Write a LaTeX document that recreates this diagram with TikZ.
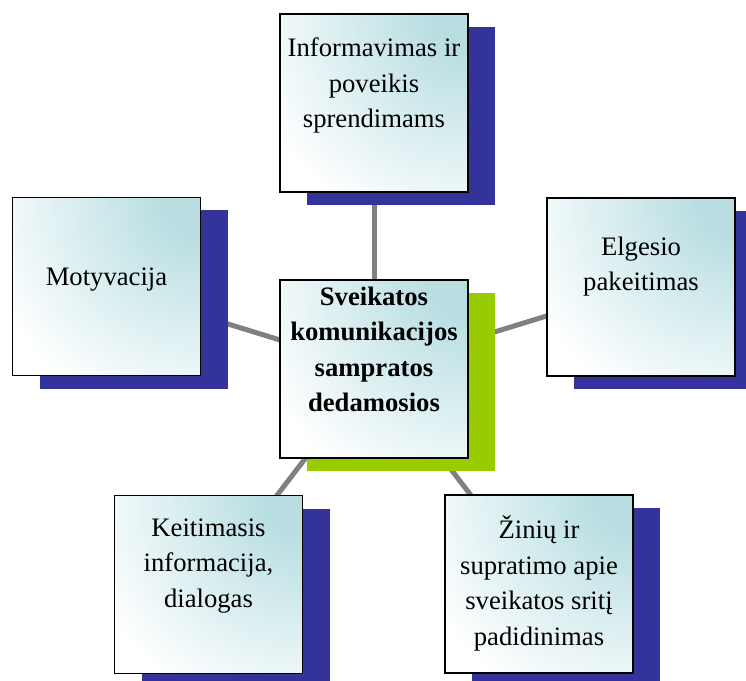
\documentclass[tikz,border=0pt]{standalone}
\usepackage{fontspec}
\setmainfont{Liberation Serif}
\usetikzlibrary{backgrounds}
\definecolor{boxteal}{RGB}{184,222,226}
\definecolor{shadowblue}{RGB}{51,51,153}
\definecolor{shadowgreen}{RGB}{153,204,0}
\definecolor{conngray}{RGB}{128,128,128}
\pgfdeclareradialshading{boxshade}{\pgfpoint{0bp}{0bp}}{color(0bp)=(boxteal); color(4bp)=(boxteal); color(25bp)=(white); color(50bp)=(white)}
\begin{document}
\begin{tikzpicture}[x=0.75pt,y=-0.75pt,
 box/.style={draw=black, fill=white, line width=1.3pt, minimum width=141pt, minimum height=133.5pt, inner sep=0pt,
   path picture={\shade[shading=boxshade] (path picture bounding box.north east) circle (170pt);}},
 blueshadow/.style={preaction={fill=shadowblue, transform canvas={xshift=20.25pt,yshift=-9.75pt}}},
 greenshadow/.style={preaction={fill=shadowgreen, transform canvas={xshift=20.25pt,yshift=-9.75pt}}},
 lbl/.style={align=center, inner sep=0pt, font=\fontsize{20pt}{26.6pt}\selectfont},
 conn/.style={draw=conngray, line width=3.75pt}]
\useasboundingbox (0,0) rectangle (746,681);
\clip (0,0) rectangle (746,681);
% boxes
\node[box, blueshadow] (T) at (374,103) {};
\node[box, blueshadow] (M) at (106.5,286.5) {};
\node[box, blueshadow] (E) at (641,287) {};
\node[box, blueshadow] (K) at (208.5,584.5) {};
\node[box, blueshadow] (Z) at (539,584) {};
\node[box, greenshadow] (C) at (374,369) {};
% texts
\node[lbl] (Tt) at (374,85.5) {Informavimas ir\\poveikis\\sprendimams};
\node[lbl] (Mt) at (106.5,280) {Motyvacija};
\node[lbl] (Et) at (641,266.5) {Elgesio\\pakeitimas};
\node[lbl] (Kt) at (208.5,566) {Keitimasis\\informacija,\\dialogas};
\node[lbl] (Zt) at (539,583.5) {Žinių ir\\supratimo apie\\sveikatos sritį\\padidinimas};
\node[lbl, font=\fontsize{20pt}{26.6pt}\selectfont\bfseries] (Ct) at (374,349.5) {Sveikatos\\komunikacijos\\sampratos\\dedamosios};
% connectors
\begin{scope}[on background layer]
\draw[conn] (C.center) -- (T.center);
\draw[conn] (C.center) -- (M.center);
\draw[conn] (C.center) -- (E.center);
\draw[conn] (C.center) -- (K.center);
\draw[conn] (C.center) -- (Z.center);
\end{scope}
\end{tikzpicture}
\end{document}
